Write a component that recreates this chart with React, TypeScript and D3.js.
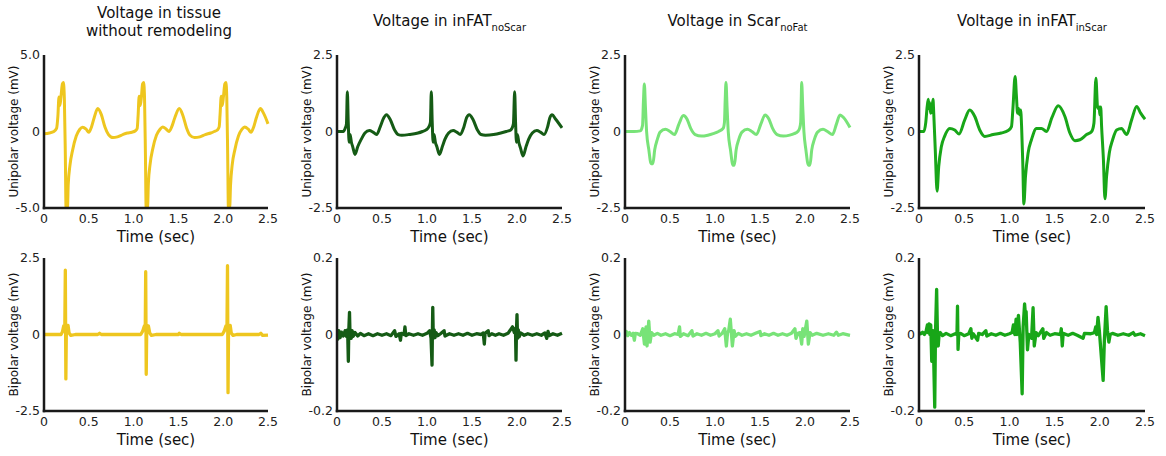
import React from 'react';
import * as d3 from 'd3';

type Pt = [number, number];

// ---------- data (time in sec, voltage in mV) ----------
const xTickValues = [0, 0.5, 1.0, 1.5, 2.0, 2.5];
const xTickLabels = ['0', '0.5', '1.0', '1.5', '2.0', '2.5'];

const columnTitles = ['Voltage in tissue|without remodeling', 'Voltage in inFAT', 'Voltage in Scar', 'Voltage in inFAT'];
const columnSubs = ['', 'noScar', 'noFat', 'inScar'];
const columnColors = ['#EEC61F', '#155B15', '#78E378', '#18A618'];

const uniLimits = [5, 2.5, 2.5, 2.5];
const uniTickLabels = [['-5.0', '0', '5.0'], ['-2.5', '0', '2.5'], ['-2.5', '0', '2.5'], ['-2.5', '0', '2.5']];
const biLimits = [2.5, 0.2, 0.2, 0.2];
const biTickLabels = [['-2.5', '0', '2.5'], ['-0.2', '0', '0.2'], ['-0.2', '0', '0.2'], ['-0.2', '0', '0.2']];

const uniTissue: Pt[] = [
  [0, -0.15], [0.06, -0.1], [0.11, 0], [0.14, 0.2], [0.155, 1.0], [0.167, 2.25], [0.178, 1.7], [0.19, 2.3],
  [0.205, 3.1], [0.216, 3.2], [0.227, 2.2], [0.238, -1.5], [0.246, -5], [0.262, -5], [0.27, -3.5], [0.29, -2.2],
  [0.32, -1.2], [0.36, -0.3], [0.4, 0.15], [0.43, 0.28], [0.47, 0.15], [0.5, -0.05], [0.53, 0.3], [0.56, 0.9],
  [0.6, 1.5], [0.64, 1.1], [0.68, 0.3], [0.72, -0.2], [0.77, -0.4], [0.82, -0.35], [0.88, -0.2], [0.93, -0.1],
  [0.98, -0.05], [1.02, 0.05], [1.04, 0.2], [1.05, 1.0], [1.062, 2.3], [1.075, 1.7], [1.088, 2.3], [1.1, 3.1],
  [1.112, 3.2], [1.122, 2.2], [1.132, -1.5], [1.14, -5], [1.155, -5], [1.165, -3.4], [1.185, -2.1], [1.215, -1.1],
  [1.255, -0.25], [1.295, 0.15], [1.325, 0.3], [1.365, 0.15], [1.395, 0.0], [1.425, 0.3], [1.46, 0.9], [1.51, 1.5],
  [1.55, 1.05], [1.59, 0.25], [1.63, -0.25], [1.68, -0.4], [1.74, -0.35], [1.8, -0.2], [1.86, -0.1], [1.9, 0.0],
  [1.935, 0.1], [1.955, 0.3], [1.965, 1.1], [1.978, 2.3], [1.99, 1.7], [2.003, 2.3], [2.018, 3.1], [2.03, 3.2],
  [2.04, 2.2], [2.05, -1.5], [2.058, -5], [2.072, -5], [2.082, -3.5], [2.1, -2.2], [2.13, -1.2], [2.17, -0.3],
  [2.21, 0.15], [2.24, 0.3], [2.28, 0.15], [2.31, -0.05], [2.34, 0.3], [2.37, 0.9], [2.415, 1.5], [2.45, 1.2],
  [2.5, 0.5],
];

const uniNoScar: Pt[] = [
  [0, 0], [0.07, 0], [0.09, 0.1], [0.105, 0.25], [0.115, 1.3], [0.125, 0.3], [0.135, -0.35], [0.145, -0.1],
  [0.16, -0.35], [0.175, -0.5], [0.2, -0.75], [0.23, -0.5], [0.27, -0.25], [0.31, -0.05], [0.36, 0.03], [0.4, -0.02],
  [0.44, -0.1], [0.48, 0.15], [0.52, 0.45], [0.55, 0.55], [0.59, 0.4], [0.64, 0.05], [0.68, -0.1], [0.72, -0.12],
  [0.8, -0.1], [0.9, -0.05], [0.95, 0], [0.99, 0.05], [1.02, 0.15], [1.038, 0.3], [1.048, 1.3], [1.058, 0.3],
  [1.068, -0.35], [1.078, -0.1], [1.093, -0.35], [1.11, -0.5], [1.138, -0.75], [1.17, -0.5], [1.2, -0.25], [1.24, -0.05],
  [1.29, 0.03], [1.33, -0.02], [1.37, -0.1], [1.41, 0.15], [1.44, 0.45], [1.47, 0.55], [1.51, 0.4], [1.56, 0.05],
  [1.6, -0.1], [1.65, -0.12], [1.74, -0.1], [1.82, -0.05], [1.88, 0.0], [1.93, 0.05], [1.96, 0.25], [1.974, 1.3],
  [1.984, 0.3], [1.994, -0.35], [2.004, -0.1], [2.02, -0.35], [2.04, -0.55], [2.067, -0.8], [2.1, -0.5], [2.13, -0.25],
  [2.17, -0.05], [2.22, 0.03], [2.26, -0.02], [2.3, -0.1], [2.34, 0.15], [2.365, 0.45], [2.39, 0.55], [2.43, 0.4],
  [2.5, 0.12],
];

const uniScar: Pt[] = [
  [0, 0], [0.1, 0], [0.17, 0.02], [0.195, 0.2], [0.205, 1.0], [0.215, 1.55], [0.227, 0.8], [0.24, 0.0],
  [0.265, -0.6], [0.29, -1.05], [0.31, -1.05], [0.33, -0.6], [0.36, -0.25], [0.39, -0.02], [0.45, 0.07], [0.5, 0.0],
  [0.55, -0.1], [0.6, 0.25], [0.648, 0.52], [0.69, 0.4], [0.73, 0.1], [0.78, -0.1], [0.85, -0.15], [0.92, -0.12],
  [0.98, -0.07], [1.04, 0.0], [1.09, 0.1], [1.105, 0.3], [1.113, 1.0], [1.122, 1.6], [1.134, 0.8], [1.147, 0.0],
  [1.172, -0.6], [1.2, -1.1], [1.215, -1.1], [1.235, -0.6], [1.265, -0.25], [1.3, -0.02], [1.36, 0.07], [1.41, 0.0],
  [1.46, -0.1], [1.51, 0.25], [1.556, 0.54], [1.6, 0.4], [1.64, 0.1], [1.69, -0.1], [1.76, -0.15], [1.83, -0.12],
  [1.88, -0.07], [1.92, 0.0], [1.94, 0.1], [1.952, 0.3], [1.958, 1.0], [1.963, 1.6], [1.975, 0.8], [1.988, 0.0],
  [2.01, -0.6], [2.038, -1.1], [2.055, -1.1], [2.075, -0.6], [2.105, -0.25], [2.14, -0.02], [2.2, 0.07], [2.25, 0.0],
  [2.305, -0.1], [2.35, 0.25], [2.389, 0.54], [2.43, 0.45], [2.5, 0.13],
];

const uniInScar: Pt[] = [
  [0, 0], [0.055, 0], [0.075, 0.3], [0.09, 0.8], [0.103, 1.05], [0.11, 0.75], [0.118, 0.95], [0.128, 0.6],
  [0.14, 0.65], [0.155, 1.05], [0.163, 0.6], [0.18, -0.6], [0.2, -1.95], [0.218, -1.15], [0.247, -0.5], [0.284, -0.15],
  [0.34, 0.1], [0.395, 0.05], [0.443, -0.08], [0.506, 0.38], [0.561, 0.7], [0.617, 0.49], [0.672, 0.05], [0.727, -0.16],
  [0.82, -0.1], [0.91, -0.05], [0.986, 0.03], [1.023, 0.16], [1.04, 0.8], [1.063, 1.8], [1.078, 1.14], [1.09, 0.6],
  [1.1, 0.76], [1.112, 0.55], [1.124, 0.7], [1.135, 0.16], [1.148, -1.03], [1.16, -2.37], [1.178, -1.47], [1.207, -0.7],
  [1.244, -0.27], [1.3, 0.1], [1.355, 0.1], [1.41, 0], [1.47, 0.45], [1.54, 0.84], [1.614, 0.49], [1.669, -0.05],
  [1.725, -0.3], [1.78, -0.27], [1.854, -0.1], [1.91, 0], [1.935, 0.27], [1.957, 1.74], [1.975, 0.8], [1.985, 0.75],
  [1.994, 0.8], [2.0, 0.55], [2.01, 0.8], [2.02, 0.16], [2.04, -0.92], [2.057, -2.2], [2.075, -1.47], [2.105, -0.7],
  [2.142, -0.27], [2.186, 0.05], [2.24, 0.1], [2.297, -0.1], [2.352, 0.38], [2.408, 0.82], [2.452, 0.6], [2.5, 0.4],
];

const biTissue: Pt[] = [
  [0, 0], [0.1, 0.0], [0.19, 0.0], [0.205, 0.08], [0.22, 0.28], [0.232, 0.15], [0.238, 2.1], [0.244, -1.45],
  [0.25, 0.3], [0.258, 0.1], [0.268, 0.3], [0.28, 0.05], [0.3, -0.03], [0.35, 0.0], [0.6, 0.0], [0.62, 0.04],
  [0.64, 0.0], [1.08, 0.0], [1.1, 0.1], [1.12, 0.28], [1.13, 0.15], [1.135, 2.05], [1.141, -1.3], [1.147, 0.3],
  [1.155, 0.1], [1.165, 0.28], [1.18, 0.05], [1.2, -0.03], [1.25, 0], [1.5, 0], [1.51, 0.04], [1.53, 0],
  [1.99, 0], [2.01, 0.1], [2.03, 0.28], [2.042, 0.15], [2.048, 2.25], [2.054, -1.9], [2.06, 0.3], [2.068, 0.1],
  [2.078, 0.3], [2.09, 0.05], [2.11, -0.03], [2.15, 0], [2.4, 0], [2.42, 0.04], [2.44, -0.03], [2.5, -0.02],
];

const biNoScar: Pt[] = [
  [0, 0.005], [0.01, -0.012], [0.02, 0.01], [0.035, -0.008], [0.05, 0.006], [0.07, -0.004], [0.09, 0.01], [0.105, -0.005],
  [0.118, 0.012], [0.126, -0.07], [0.131, 0.01], [0.139, 0.058], [0.145, -0.005], [0.15, 0.012], [0.158, -0.01], [0.168, 0.01],
  [0.18, -0.005], [0.2, 0.005], [0.23, -0.004], [0.26, 0.003], [0.3, -0.003], [0.35, 0.002], [0.4, -0.003], [0.45, 0.002],
  [0.5, -0.002], [0.55, 0.002], [0.6, -0.003], [0.64, 0.01], [0.655, -0.005], [0.69, 0.002], [0.705, -0.015], [0.715, 0.003],
  [0.745, 0.0], [0.755, 0.02], [0.765, -0.003], [0.8, 0.002], [0.85, -0.002], [0.9, 0.002], [0.95, -0.002], [1.0, 0.003],
  [1.03, 0.01], [1.045, -0.01], [1.056, -0.08], [1.06, 0.01], [1.064, 0.071], [1.07, -0.01], [1.08, 0.012], [1.09, -0.008],
  [1.1, 0.005], [1.12, -0.003], [1.15, 0.002], [1.19, 0.01], [1.2, -0.004], [1.25, 0.002], [1.3, -0.002], [1.35, 0.002],
  [1.4, -0.002], [1.45, 0.003], [1.5, -0.002], [1.55, 0.002], [1.6, 0.0], [1.625, 0.004], [1.637, -0.025], [1.645, 0.003],
  [1.68, 0.01], [1.69, -0.003], [1.72, 0.002], [1.76, -0.002], [1.8, 0.002], [1.85, -0.002], [1.9, 0.003], [1.95, 0.02],
  [1.97, 0.005], [1.983, 0.015], [1.989, -0.067], [1.994, 0.01], [2.0, 0.052], [2.006, -0.01], [2.015, 0.012], [2.025, -0.006],
  [2.04, 0.004], [2.08, -0.002], [2.12, 0.002], [2.17, -0.002], [2.22, 0.002], [2.27, -0.002], [2.31, 0.004], [2.33, -0.01],
  [2.345, 0.008], [2.36, -0.003], [2.4, 0.002], [2.45, -0.002], [2.5, 0.003],
];

const biScar: Pt[] = [
  [0, 0.0], [0.015, 0.008], [0.03, -0.003], [0.05, 0.005], [0.07, -0.002], [0.09, 0.003], [0.104, -0.015], [0.115, 0.003],
  [0.14, 0.002], [0.17, -0.002], [0.197, 0.015], [0.216, -0.025], [0.234, 0.02], [0.245, -0.03], [0.264, 0.035], [0.279, -0.02],
  [0.295, 0.005], [0.32, -0.002], [0.36, 0.003], [0.4, -0.002], [0.45, 0.002], [0.5, -0.003], [0.55, 0.002], [0.59, 0.0],
  [0.606, 0.02], [0.615, -0.005], [0.65, 0.002], [0.7, -0.003], [0.743, 0.01], [0.755, -0.004], [0.8, 0.002], [0.85, -0.002],
  [0.9, 0.003], [0.95, -0.002], [1.0, 0.002], [1.033, 0.01], [1.045, -0.004], [1.08, 0.003], [1.108, 0.015], [1.126, -0.03],
  [1.14, 0.005], [1.152, 0.01], [1.17, 0.04], [1.193, -0.03], [1.212, 0.01], [1.225, -0.005], [1.26, 0.003], [1.3, -0.002],
  [1.35, 0.002], [1.4, -0.002], [1.45, 0.003], [1.5, 0.008], [1.51, -0.003], [1.55, 0.002], [1.6, -0.002], [1.65, 0.003],
  [1.7, -0.002], [1.75, 0.002], [1.8, -0.002], [1.85, 0.003], [1.888, 0.015], [1.9, -0.01], [1.92, 0.003], [1.945, 0.005],
  [1.963, -0.025], [1.975, 0.015], [1.99, -0.005], [2.02, 0.035], [2.037, -0.025], [2.056, 0.005], [2.08, -0.002], [2.13, 0.003],
  [2.2, -0.002], [2.26, 0.002], [2.32, -0.002], [2.35, 0.006], [2.37, -0.002], [2.42, 0.002], [2.5, -0.002],
];

const biInScar: Pt[] = [
  [0, 0.005], [0.02, 0.002], [0.04, 0.006], [0.06, 0.0], [0.08, 0.01], [0.093, 0.025], [0.1, 0.005], [0.112, 0.028],
  [0.12, 0.0], [0.13, 0.025], [0.141, -0.07], [0.15, 0.01], [0.156, 0.01], [0.174, -0.19], [0.182, 0.0], [0.195, 0.118],
  [0.205, -0.01], [0.213, -0.03], [0.222, 0.0], [0.235, 0.005], [0.26, -0.003], [0.3, 0.003], [0.35, -0.003], [0.4, 0.002],
  [0.42, 0.0], [0.426, 0.074], [0.432, -0.039], [0.44, 0.0], [0.46, 0.003], [0.5, -0.003], [0.55, 0.002], [0.574, 0.015],
  [0.585, -0.01], [0.6, 0.002], [0.648, -0.015], [0.66, 0.003], [0.7, 0.0], [0.74, 0.01], [0.75, -0.004], [0.8, 0.002],
  [0.85, -0.002], [0.9, 0.003], [0.95, -0.002], [1.0, 0.002], [1.03, 0.005], [1.044, 0.025], [1.06, 0.0], [1.074, 0.04],
  [1.085, 0.0], [1.1, 0.05], [1.12, -0.02], [1.141, -0.155], [1.152, 0.02], [1.168, 0.08], [1.178, 0.05], [1.185, 0.06],
  [1.2, -0.04], [1.215, 0.0], [1.245, -0.01], [1.262, 0.07], [1.275, -0.03], [1.295, 0.005], [1.32, -0.003], [1.37, 0.015],
  [1.38, -0.01], [1.41, 0.005], [1.45, -0.002], [1.5, 0.002], [1.565, 0.0], [1.574, 0.015], [1.585, -0.03], [1.595, 0.003],
  [1.65, -0.002], [1.7, 0.003], [1.75, -0.002], [1.815, -0.01], [1.83, 0.003], [1.9, 0.002], [1.94, 0.005], [1.955, 0.02],
  [1.965, 0.0], [1.98, 0.045], [1.995, 0.01], [2.037, -0.12], [2.05, -0.02], [2.07, 0.073], [2.085, 0.01], [2.1, -0.02],
  [2.115, 0.0], [2.14, 0.003], [2.2, -0.002], [2.26, 0.002], [2.32, -0.002], [2.37, 0.005], [2.39, -0.002], [2.45, 0.002],
  [2.5, -0.003],
];

const unipolarSeries = [uniTissue, uniNoScar, uniScar, uniInScar];
const bipolarSeries = [biTissue, biNoScar, biScar, biInScar];

// ---------- layout ----------
const W = 1166;
const H = 456;
const FONT = "'DejaVu Sans', sans-serif";
const COLS = [
  { x0: 44, x1: 268 },
  { x0: 337, x1: 562 },
  { x0: 625, x1: 850 },
  { x0: 919, x1: 1145 },
];
const ROWS = [
  { y0: 55, y1: 208, yLabel: 'Unipolar voltage (mV)' },
  { y0: 258, y1: 411, yLabel: 'Bipolar voltage (mV)' },
];

type PanelProps = {
  id: string;
  data: Pt[];
  color: string;
  ymax: number;
  yTicks: string[];
  col: { x0: number; x1: number };
  row: { y0: number; y1: number; yLabel: string };
  smooth: boolean;
};

function Panel({ id, data, color, ymax, yTicks, col, row, smooth }: PanelProps) {
  const x = d3.scaleLinear().domain([0, 2.5]).range([col.x0, col.x1]);
  const y = d3.scaleLinear().domain([-ymax, ymax]).range([row.y1, row.y0]);
  const line = d3
    .line<Pt>()
    .x((d) => x(d[0]))
    .y((d) => y(d[1]))
    .curve(smooth ? d3.curveMonotoneX : d3.curveLinear);
  const yVals = [-ymax, 0, ymax];
  const cx = (col.x0 + col.x1) / 2;
  const cy = (row.y0 + row.y1) / 2;
  return (
    <g>
      <defs>
        <clipPath id={id}>
          <rect x={col.x0} y={row.y0 - 10} width={col.x1 - col.x0 + 6} height={row.y1 - row.y0 + 10} />
        </clipPath>
      </defs>
      <path
        d={line(data) || ''}
        fill="none"
        stroke={color}
        strokeWidth={smooth ? 3 : 3.3}
        strokeLinejoin="round"
        clipPath={`url(#${id})`}
      />
      <line x1={col.x0} x2={col.x0} y1={row.y0} y2={row.y1 + 1.25} stroke="#1a1a1a" strokeWidth={2.5} />
      <line x1={col.x0 - 1.25} x2={col.x1} y1={row.y1} y2={row.y1} stroke="#1a1a1a" strokeWidth={2.5} />
      {xTickValues.map((v, i) => (
        <text key={i} x={x(v)} y={row.y1 + 14.5} textAnchor="middle" fontSize={12.5} fontFamily={FONT} fill="#222">
          {xTickLabels[i]}
        </text>
      ))}
      {yVals.map((v, i) => (
        <text key={i} x={col.x0 - 4} y={y(v) + 4.4} textAnchor="end" fontSize={12.5} fontFamily={FONT} fill="#222">
          {yTicks[i]}
        </text>
      ))}
      <text x={cx} y={row.y1 + 34} textAnchor="middle" fontSize={15} fontFamily={FONT} fill="#111">
        Time (sec)
      </text>
      <text
        transform={`translate(${col.x0 - 30},${cy}) rotate(-90)`}
        textAnchor="middle"
        dy="0.35em"
        fontSize={12}
        fontFamily={FONT}
        fill="#111"
      >
        {row.yLabel}
      </text>
    </g>
  );
}

export default function App() {
  return (
    <svg width={W} height={H} style={{ position: 'absolute', left: 0, top: 0, background: '#fff' }}>
      <rect width={W} height={H} fill="#fff" />
      {COLS.map((col, i) => {
        const cx = (col.x0 + col.x1) / 2;
        const lines = columnTitles[i].split('|');
        return (
          <g key={i}>
            {lines.length > 1 ? (
              lines.map((l, j) => (
                <text key={j} x={cx + 3} y={18 + j * 18} textAnchor="middle" fontSize={15} fontFamily={FONT} fill="#111">
                  {l}
                </text>
              ))
            ) : (
              <text x={cx} y={26} textAnchor="middle" fontSize={15} fontFamily={FONT} fill="#111">
                {lines[0]}
                <tspan fontSize={10} dy={5}>
                  {columnSubs[i]}
                </tspan>
              </text>
            )}
            <Panel
              id={`u${i}`}
              data={unipolarSeries[i]}
              color={columnColors[i]}
              ymax={uniLimits[i]}
              yTicks={uniTickLabels[i]}
              col={col}
              row={ROWS[0]}
              smooth={true}
            />
            <Panel
              id={`b${i}`}
              data={bipolarSeries[i]}
              color={columnColors[i]}
              ymax={biLimits[i]}
              yTicks={biTickLabels[i]}
              col={col}
              row={ROWS[1]}
              smooth={false}
            />
          </g>
        );
      })}
    </svg>
  );
}
